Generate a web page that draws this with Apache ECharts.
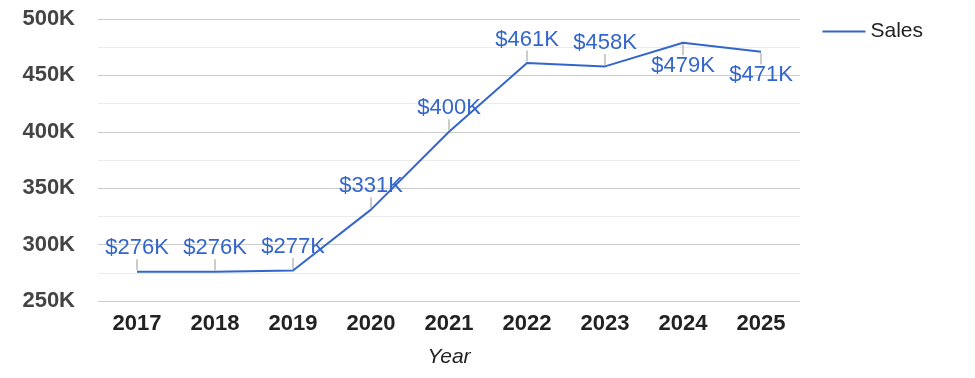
<!DOCTYPE html>
<html>
<head>
<meta charset="utf-8">
<script src="https://cdn.jsdelivr.net/npm/echarts@6/dist/echarts.min.js"></script>
<style>
  html, body { margin: 0; padding: 0; background: #fff; }
  #chart { width: 975px; height: 378px; }
</style>
</head>
<body>
<div id="chart"></div>
<script>
const years = ['2017', '2018', '2019', '2020', '2021', '2022', '2023', '2024', '2025']
const sales = [276, 276, 277, 331, 400, 461, 458, 479, 471] // thousands
// label goes under the point for the last two years
const labelBelow = [false, false, false, false, false, false, false, true, true]
const yTicks = [250, 300, 350, 400, 450, 500]

const blue = '#3366CC'

// value text plus a small grey stem joining it to the point
const seriesData = sales.map((v, i) => ({
  value: v,
  label: {
    position: labelBelow[i] ? 'bottom' : 'top',
    formatter: labelBelow[i] ? '{stem|}\n{val|$' + v + 'K}' : '{val|$' + v + 'K}\n{stem|}'
  }
}))

const chart = echarts.init(document.getElementById('chart'))
chart.setOption({
  animation: false,
  textStyle: { fontFamily: 'Liberation Sans, Arial, sans-serif' },
  grid: { left: 98, right: 175, top: 19, bottom: 77 },
  legend: {
    right: 47,
    top: 16,
    itemWidth: 43,
    itemHeight: 2,
    itemGap: 10,
    textStyle: { fontSize: 21, color: '#222' },
    data: [{ name: 'Sales', icon: 'rect', itemStyle: { color: blue } }]
  },
  xAxis: {
    type: 'category',
    data: years,
    axisLine: { show: false },
    axisTick: { show: false },
    axisLabel: { fontSize: 22, fontWeight: 'bold', color: '#222', margin: 12 },
    name: 'Year',
    nameLocation: 'middle',
    nameGap: 46,
    nameTextStyle: { fontSize: 21, fontStyle: 'italic', color: '#222' }
  },
  yAxis: {
    type: 'value',
    min: yTicks[0],
    max: yTicks[yTicks.length - 1],
    interval: 50,
    axisLine: { show: false },
    axisTick: { show: false },
    axisLabel: {
      fontSize: 22, fontWeight: 'bold', color: '#444', margin: 23,
      formatter: v => v + 'K'
    },
    splitLine: { lineStyle: { color: '#cccccc', width: 1 } },
    minorTick: { show: false, splitNumber: 2 },
    minorSplitLine: { show: true, lineStyle: { color: '#ebebeb', width: 1 } }
  },
  series: [{
    name: 'Sales',
    type: 'line',
    data: seriesData,
    symbol: 'circle',
    symbolSize: 1,
    showSymbol: true,
    lineStyle: { color: blue, width: 2 },
    itemStyle: { color: 'rgba(0,0,0,0)' },
    label: {
      show: true,
      distance: 1,
      align: 'center',
      rich: {
        val: { fontSize: 22, color: blue, lineHeight: 22, align: 'center' },
        stem: { width: 1, height: 11, backgroundColor: '#999', align: 'center' }
      }
    }
  }]
})
</script>
</body>
</html>
